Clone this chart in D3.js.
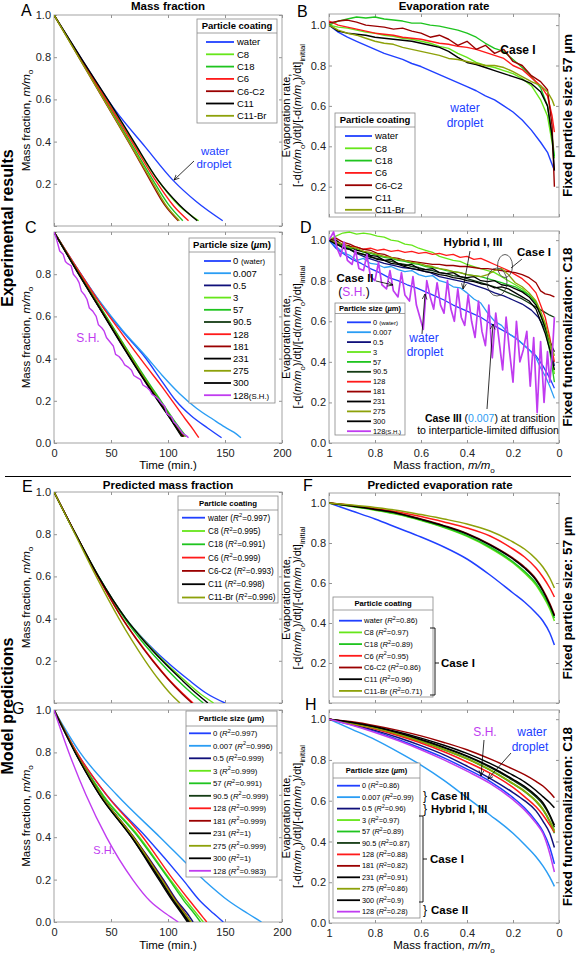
<!DOCTYPE html>
<html><head><meta charset="utf-8">
<script src="https://cdn.jsdelivr.net/npm/d3@7/dist/d3.min.js"></script>
<style>html,body{margin:0;padding:0;background:#fff;}svg{display:block;}</style>
</head><body>
<svg id="fig" width="576" height="957" xmlns="http://www.w3.org/2000/svg"></svg>
<script>
// ================= DATA =================
const timeTicks = [0, 50, 100, 150, 200];
const massFracTicks = [1, 0.8, 0.6, 0.4, 0.2, 0];
const fracTicks = [0, 0.2, 0.4, 0.6, 0.8, 1.0];

const coatingNames = ["water","C8","C18","C6","C6-C2","C11","C11-Br"];
const sizeNames = ["0 (water)","0.007","0.5","3","57","90.5","128","181","231","275","300","128(S.H.)"];
const sizeNamesShort = ["0","0.007","0.5","3","57","90.5","128","181","231","275","300","128"];
const coatR2Mass = [0.997,0.995,0.991,0.999,0.993,0.998,0.996];
const coatR2Rate = [0.86,0.97,0.89,0.95,0.86,0.96,0.71];
const sizeR2Mass = [0.997,0.996,0.999,0.999,0.991,0.999,0.999,0.999,1,0.999,1,0.983];
const sizeR2Rate = [0.86,0.99,0.96,0.97,0.89,0.87,0.88,0.82,0.91,0.86,0.9,0.28];

// Panel A: measured mass fraction vs time [min, m/mo], one series per coating
const massA = [
  [[0,1],[25,0.785],[53.5,0.55],[80,0.375],[104.7,0.215],[125,0.115],[148,0.025]],
  [[0,1],[25,0.78],[50,0.565],[70,0.392],[90,0.225],[110,0.095],[127,0.025]],
  [[0,1],[25,0.775],[50,0.55],[70,0.37],[86,0.225],[100,0.105],[113,0.025]],
  [[0,1],[25,0.78],[50,0.56],[70,0.385],[88,0.225],[105,0.095],[118,0.025]],
  [[0,1],[25,0.77],[50,0.54],[70,0.355],[84,0.22],[97,0.1],[109,0.025]],
  [[0,1],[25,0.785],[50,0.575],[70,0.4],[91.5,0.215],[110,0.1],[125.7,0.025]],
  [[0,1],[25,0.77],[50,0.542],[70,0.358],[85,0.22],[98,0.1],[110,0.025]]
];

// Panel B: measured evaporation rate on a mass-fraction grid
const rateB_x = [1,0.96,0.92,0.88,0.84,0.8,0.76,0.72,0.68,0.64,0.6,0.56,0.52,0.48,0.44,0.4,0.36,0.32,0.28,0.24,0.2,0.16,0.12,0.08,0.05,0.03,0.02];
const rateB = [
  [1.0,0.965,0.94,0.92,0.9,0.88,0.86,0.845,0.83,0.81,0.795,0.775,0.755,0.735,0.715,0.695,0.675,0.65,0.63,0.6,0.57,0.53,0.48,0.42,0.37,0.31,0.28],
  [1.0,0.99,0.985,0.975,0.965,0.96,0.95,0.945,0.935,0.93,0.92,0.91,0.895,0.885,0.86,0.84,0.815,0.8,0.79,0.775,0.76,0.735,0.7,0.63,0.55,0.42,0.34],
  [1.0,1.02,1.03,1.04,1.035,1.04,1.03,1.025,1.02,1.01,1.01,1.0,0.995,0.985,0.975,0.96,0.94,0.91,0.885,0.87,0.83,0.79,0.745,0.69,0.6,0.45,0.35],
  [1.02,1.0,0.99,0.98,0.97,0.96,0.955,0.95,0.94,0.935,0.93,0.92,0.91,0.905,0.895,0.89,0.88,0.865,0.85,0.835,0.8,0.78,0.74,0.7,0.65,0.55,0.47],
  [1.01,1.02,1.025,1.015,1.0,0.995,0.99,0.98,0.985,0.97,0.96,0.94,0.95,0.93,0.9,0.92,0.88,0.9,0.86,0.88,0.82,0.8,0.75,0.72,0.68,0.5,0.2],
  [1.0,0.97,0.96,0.955,0.95,0.94,0.935,0.93,0.925,0.92,0.91,0.9,0.89,0.87,0.84,0.815,0.805,0.79,0.775,0.76,0.745,0.73,0.71,0.67,0.6,0.45,0.28],
  [1.0,0.975,0.96,0.95,0.935,0.92,0.91,0.905,0.89,0.88,0.87,0.86,0.85,0.835,0.83,0.82,0.81,0.8,0.8,0.79,0.77,0.745,0.72,0.7,0.67,0.63,0.6]
];

// Panel C: measured mass fraction vs time, one series per particle size
const massC = [
  [[0,1],[20,0.83],[40,0.67],[60,0.53],[80,0.405],[95,0.29],[107,0.2],[120,0.13],[135,0.07],[147,0.025]],
  [[0,1],[20,0.83],[40,0.672],[60,0.535],[80,0.415],[95,0.32],[110,0.235],[125,0.165],[140,0.11],[150,0.075],[158,0.05],[164,0.025]],
  [[0,1],[20,0.82],[40,0.645],[60,0.47],[80,0.3],[95,0.18],[105,0.1],[114,0.03]],
  [[0,1],[20,0.822],[40,0.648],[60,0.475],[80,0.305],[95,0.185],[105,0.105],[115,0.03]],
  [[0,1],[20,0.823],[40,0.65],[60,0.478],[80,0.31],[95,0.19],[105,0.11],[116,0.03]],
  [[0,1],[20,0.818],[40,0.64],[60,0.465],[80,0.295],[95,0.175],[105,0.095],[113,0.03]],
  [[0,1],[20,0.83],[40,0.665],[60,0.515],[80,0.37],[95,0.265],[105,0.19],[115,0.115],[122,0.065],[127,0.025]],
  [[0,1],[20,0.82],[40,0.642],[60,0.468],[80,0.298],[95,0.178],[105,0.098],[114,0.03]],
  [[0,1],[20,0.815],[40,0.638],[60,0.46],[80,0.29],[95,0.17],[105,0.09],[112,0.03]],
  [[0,1],[20,0.82],[40,0.643],[60,0.47],[80,0.3],[95,0.178],[105,0.097],[113,0.03]],
  [[0,1],[20,0.817],[40,0.64],[60,0.463],[80,0.293],[95,0.173],[105,0.092],[113,0.03]],
  [[0,1],[2,0.97],[4,0.93],[5,0.91],[8,0.895],[10,0.86],[12,0.85],[15,0.84],[17,0.8],[20,0.78],[22,0.76],[24,0.72],[27,0.7],[29,0.68],[31,0.64],[34,0.625],[37,0.6],[39,0.56],[42,0.545],[44,0.53],[46,0.5],[49,0.48],[52,0.46],[54,0.42],[57,0.41],[60,0.39],[62,0.37],[65,0.36],[68,0.345],[70,0.32],[73,0.31],[76,0.3],[78,0.275],[81,0.265],[84,0.25],[86,0.23],[89,0.22],[92,0.205],[94,0.19],[97,0.175],[99,0.14],[101,0.13],[103,0.125],[105,0.1],[107,0.09],[109,0.075],[111,0.06],[113,0.045],[116,0.035],[118,0.025]]
];

// Panel D: measured evaporation rate vs mass fraction, one series per particle size
const rateD = [
  [[1,1],[0.97,0.96],[0.94,0.935],[0.9,0.905],[0.86,0.885],[0.82,0.86],[0.78,0.84],[0.74,0.815],[0.7,0.8],[0.66,0.78],[0.62,0.765],[0.58,0.745],[0.54,0.725],[0.5,0.705],[0.46,0.68],[0.42,0.66],[0.38,0.64],[0.34,0.62],[0.3,0.59],[0.26,0.565],[0.22,0.54],[0.18,0.51],[0.14,0.47],[0.1,0.43],[0.07,0.38],[0.04,0.32],[0.02,0.27]],
  [[1,1],[0.97,0.97],[0.94,0.94],[0.91,0.925],[0.88,0.9],[0.85,0.91],[0.82,0.885],[0.79,0.88],[0.76,0.865],[0.73,0.87],[0.7,0.855],[0.67,0.845],[0.64,0.85],[0.61,0.83],[0.58,0.82],[0.55,0.825],[0.52,0.8],[0.49,0.79],[0.46,0.77],[0.43,0.765],[0.4,0.74],[0.37,0.71],[0.34,0.69],[0.31,0.64],[0.28,0.6],[0.25,0.58],[0.22,0.54],[0.19,0.52],[0.16,0.49],[0.13,0.46],[0.1,0.42],[0.08,0.37],[0.06,0.33],[0.04,0.28],[0.02,0.22]],
  [[1,1],[0.96,0.975],[0.92,0.96],[0.88,0.935],[0.84,0.915],[0.8,0.9],[0.76,0.885],[0.72,0.875],[0.68,0.865],[0.64,0.86],[0.6,0.85],[0.56,0.84],[0.52,0.82],[0.48,0.81],[0.44,0.8],[0.4,0.79],[0.36,0.775],[0.32,0.76],[0.28,0.74],[0.24,0.725],[0.2,0.705],[0.16,0.685],[0.12,0.655],[0.09,0.62],[0.06,0.56],[0.04,0.48],[0.02,0.38]],
  [[1,1],[0.97,1.02],[0.94,1.035],[0.91,1.04],[0.88,1.03],[0.85,1.035],[0.82,1.03],[0.79,1.02],[0.76,1.015],[0.73,1.0],[0.7,0.995],[0.67,0.98],[0.64,0.975],[0.61,0.96],[0.58,0.95],[0.55,0.94],[0.52,0.92],[0.49,0.91],[0.46,0.9],[0.43,0.895],[0.4,0.88],[0.37,0.87],[0.34,0.86],[0.31,0.85],[0.28,0.84],[0.25,0.82],[0.22,0.8],[0.19,0.78],[0.16,0.76],[0.13,0.73],[0.1,0.69],[0.08,0.64],[0.06,0.58],[0.04,0.48],[0.02,0.34]],
  [[1,1],[0.97,0.985],[0.94,0.97],[0.91,0.96],[0.88,0.955],[0.85,0.94],[0.82,0.935],[0.79,0.925],[0.76,0.915],[0.73,0.91],[0.7,0.9],[0.67,0.895],[0.64,0.885],[0.61,0.88],[0.58,0.87],[0.55,0.865],[0.52,0.86],[0.49,0.85],[0.46,0.845],[0.43,0.84],[0.4,0.83],[0.37,0.825],[0.34,0.82],[0.31,0.81],[0.28,0.8],[0.25,0.79],[0.22,0.78],[0.19,0.77],[0.16,0.75],[0.13,0.73],[0.1,0.69],[0.08,0.63],[0.06,0.56],[0.04,0.45],[0.02,0.3]],
  [[1,1],[0.97,0.99],[0.94,0.96],[0.91,0.955],[0.88,0.935],[0.85,0.93],[0.82,0.915],[0.79,0.91],[0.76,0.9],[0.73,0.895],[0.7,0.885],[0.67,0.88],[0.64,0.87],[0.61,0.865],[0.58,0.855],[0.55,0.85],[0.52,0.84],[0.49,0.835],[0.46,0.825],[0.43,0.82],[0.4,0.81],[0.37,0.8],[0.34,0.79],[0.31,0.78],[0.28,0.77],[0.25,0.755],[0.22,0.74],[0.19,0.725],[0.16,0.71],[0.13,0.69],[0.1,0.67],[0.07,0.65],[0.04,0.63],[0.02,0.62]],
  [[1,1],[0.97,0.99],[0.94,0.98],[0.91,0.97],[0.88,0.965],[0.85,0.955],[0.82,0.96],[0.79,0.95],[0.76,0.955],[0.73,0.945],[0.7,0.95],[0.67,0.94],[0.64,0.945],[0.61,0.935],[0.58,0.94],[0.55,0.93],[0.52,0.935],[0.49,0.925],[0.46,0.93],[0.43,0.915],[0.4,0.92],[0.37,0.905],[0.34,0.91],[0.31,0.895],[0.28,0.88],[0.25,0.865],[0.22,0.85],[0.19,0.83],[0.16,0.81],[0.13,0.78],[0.1,0.74],[0.08,0.68],[0.06,0.62],[0.04,0.52],[0.02,0.4]],
  [[1,1],[0.97,1.01],[0.94,0.99],[0.91,0.98],[0.88,0.965],[0.85,0.955],[0.82,0.95],[0.79,0.935],[0.76,0.93],[0.73,0.915],[0.7,0.91],[0.67,0.9],[0.64,0.895],[0.61,0.89],[0.58,0.885],[0.55,0.88],[0.52,0.88],[0.49,0.875],[0.46,0.875],[0.43,0.87],[0.4,0.87],[0.37,0.865],[0.34,0.86],[0.31,0.86],[0.28,0.855],[0.25,0.85],[0.22,0.845],[0.19,0.84],[0.16,0.83],[0.13,0.815],[0.1,0.79],[0.08,0.75],[0.06,0.735],[0.04,0.73],[0.02,0.72]],
  [[1,1],[0.97,1.0],[0.94,0.975],[0.91,0.97],[0.88,0.95],[0.85,0.945],[0.82,0.925],[0.79,0.92],[0.76,0.9],[0.73,0.905],[0.7,0.885],[0.67,0.875],[0.64,0.88],[0.61,0.86],[0.58,0.855],[0.55,0.86],[0.52,0.84],[0.49,0.835],[0.46,0.84],[0.43,0.82],[0.4,0.815],[0.37,0.82],[0.34,0.8],[0.31,0.795],[0.28,0.8],[0.25,0.78],[0.22,0.775],[0.19,0.76],[0.16,0.745],[0.13,0.72],[0.1,0.68],[0.08,0.63],[0.06,0.57],[0.04,0.5],[0.02,0.45]],
  [[1,1],[0.97,0.99],[0.94,0.98],[0.91,0.965],[0.88,0.96],[0.85,0.945],[0.82,0.94],[0.79,0.93],[0.76,0.92],[0.73,0.915],[0.7,0.905],[0.67,0.9],[0.64,0.89],[0.61,0.885],[0.58,0.875],[0.55,0.87],[0.52,0.86],[0.49,0.855],[0.46,0.845],[0.43,0.84],[0.4,0.83],[0.37,0.825],[0.34,0.82],[0.31,0.83],[0.28,0.85],[0.25,0.86],[0.22,0.83],[0.19,0.79],[0.16,0.77],[0.13,0.74],[0.1,0.7],[0.08,0.65],[0.06,0.59],[0.04,0.5],[0.02,0.43]],
  [[1,1],[0.97,0.98],[0.94,0.965],[0.91,0.955],[0.88,0.94],[0.85,0.93],[0.82,0.92],[0.79,0.905],[0.76,0.9],[0.73,0.885],[0.7,0.88],[0.67,0.87],[0.64,0.86],[0.61,0.855],[0.58,0.845],[0.55,0.84],[0.52,0.83],[0.49,0.825],[0.46,0.815],[0.43,0.81],[0.4,0.8],[0.37,0.795],[0.34,0.785],[0.31,0.78],[0.28,0.765],[0.25,0.77],[0.22,0.76],[0.19,0.74],[0.16,0.72],[0.13,0.7],[0.1,0.66],[0.08,0.6],[0.06,0.54],[0.04,0.46],[0.02,0.36]],
  [[1,1],[0.98,1.04],[0.965,0.96],[0.95,0.92],[0.935,0.99],[0.92,0.9],[0.9,0.88],[0.885,0.95],[0.87,0.86],[0.85,0.85],[0.835,0.93],[0.82,0.82],[0.8,0.8],[0.785,0.89],[0.77,0.78],[0.75,0.76],[0.735,0.85],[0.72,0.75],[0.7,0.72],[0.685,0.84],[0.67,0.73],[0.65,0.7],[0.635,0.82],[0.62,0.68],[0.6,0.6],[0.59,0.56],[0.575,0.8],[0.56,0.72],[0.545,0.66],[0.53,0.79],[0.515,0.68],[0.5,0.64],[0.485,0.8],[0.47,0.66],[0.455,0.6],[0.44,0.76],[0.425,0.62],[0.41,0.58],[0.395,0.73],[0.38,0.6],[0.365,0.52],[0.35,0.7],[0.335,0.55],[0.32,0.48],[0.305,0.68],[0.29,0.42],[0.275,0.64],[0.26,0.5],[0.245,0.36],[0.23,0.62],[0.215,0.45],[0.2,0.3],[0.185,0.6],[0.17,0.4],[0.155,0.46],[0.14,0.55],[0.125,0.28],[0.11,0.52],[0.095,0.15],[0.08,0.5],[0.065,0.2],[0.05,0.45],[0.04,0.3],[0.03,0.42],[0.02,0.62]]
];

// Panel E: predicted mass fraction; time [min] at which each mass-fraction level is reached
const massE_levels = [1,0.8,0.6,0.4,0.3,0.2,0.11,0.045,0];
const massE_times = [
  [0,19,39,63,79,98,118,134,150],
  [0,19,39,63,78.5,96,114,128,140],
  [0,19,39,62,76,92,108,121,131],
  [0,19,38.5,60,73,87,101,113,122],
  [0,19,38.5,60,72.5,86.5,100.5,112,121],
  [0,19,39,63,78,95,112,125,135],
  [0,18.5,37,57,68,80,92,102,110.5]
];

// Panel F / H: predicted evaporation rate on a mass-fraction grid
const rateModel_x = [1,0.9,0.8,0.7,0.6,0.5,0.4,0.3,0.2,0.15,0.1,0.07,0.04,0.02];
const rateF = [
  [1,0.96,0.92,0.875,0.83,0.78,0.72,0.64,0.55,0.505,0.45,0.41,0.35,0.29],
  [1,0.983,0.964,0.942,0.912,0.877,0.833,0.775,0.7,0.65,0.59,0.535,0.47,0.41],
  [1,0.984,0.966,0.945,0.915,0.88,0.837,0.78,0.706,0.658,0.598,0.545,0.482,0.425],
  [1,0.988,0.973,0.955,0.932,0.905,0.875,0.835,0.77,0.73,0.675,0.63,0.575,0.53],
  [1,0.986,0.969,0.949,0.92,0.887,0.848,0.793,0.724,0.68,0.62,0.566,0.497,0.44],
  [1,0.985,0.968,0.948,0.918,0.885,0.845,0.79,0.72,0.675,0.615,0.56,0.49,0.435],
  [1,0.99,0.978,0.963,0.942,0.92,0.895,0.86,0.805,0.77,0.72,0.68,0.625,0.575]
];

// Panel G: predicted mass fraction; time [min] to reach each level
const massG_levels = [1,0.8,0.6,0.4,0.2,0.1,0.04,0];
const massG_times = [
  [0,20,46,81,113,128,140,148.5],
  [0,22.8,55,93,131,153,170,182],
  [0,19,41,70,96,108,117,122],
  [0,19.5,43,75,102,116,125,131],
  [0,19.5,42.5,74,101,114,123,128.5],
  [0,19,41,69,94,106,114,119],
  [0,20,46,78,104.6,119,128,134],
  [0,19,41,70,95,107,115,120],
  [0,18.5,40,68,92,104,112,117],
  [0,19,41,69.5,94.5,106.5,114.5,120.5],
  [0,18.5,40,68,93,105,113,118],
  [0,13,28,46,69,84,98,109]
];

const rateH = [
  [1,0.972,0.94,0.9,0.857,0.81,0.755,0.695,0.615,0.565,0.5,0.45,0.37,0.29],
  [1,0.95,0.9,0.84,0.775,0.7,0.615,0.53,0.44,0.385,0.325,0.28,0.225,0.18],
  [1,0.975,0.945,0.91,0.87,0.825,0.77,0.71,0.64,0.6,0.55,0.5,0.44,0.37],
  [1,0.98,0.956,0.926,0.892,0.852,0.807,0.752,0.685,0.648,0.6,0.56,0.5,0.455],
  [1,0.979,0.955,0.925,0.89,0.85,0.805,0.75,0.682,0.645,0.596,0.555,0.495,0.44],
  [1,0.981,0.958,0.93,0.897,0.859,0.816,0.764,0.7,0.664,0.618,0.582,0.525,0.47],
  [1,0.978,0.952,0.92,0.883,0.84,0.79,0.735,0.665,0.62,0.57,0.53,0.48,0.445],
  [1,0.987,0.968,0.945,0.918,0.886,0.85,0.805,0.755,0.728,0.695,0.672,0.64,0.615],
  [1,0.982,0.96,0.932,0.9,0.862,0.82,0.768,0.705,0.67,0.625,0.59,0.53,0.48],
  [1,0.979,0.955,0.926,0.891,0.851,0.806,0.751,0.684,0.647,0.598,0.558,0.5,0.45],
  [1,0.984,0.963,0.937,0.907,0.872,0.832,0.783,0.725,0.692,0.65,0.62,0.59,0.565],
  [1,0.97,0.935,0.895,0.85,0.8,0.745,0.685,0.605,0.555,0.49,0.44,0.34,0.25]
];

// ================= STYLE =================
const FONT = '"Liberation Sans", Arial, Helvetica, sans-serif';
const BOX = '#9a9a9a';
const PAL = {water:'#2040ff', light:'#2a9df4', navy:'#10107a', lime:'#66e61a', green:'#1fc41f',
  red:'#ff1a1a', dred:'#9a0000', black:'#000000', olive:'#8da10a', dgreen:'#143c14', purple:'#c03cf0'};
const coatColors = ['water','lime','green','red','dred','black','olive'].map(k => PAL[k]);
const sizeColors = ['water','light','navy','lime','green','dgreen','red','dred','black','olive','black','purple'].map(k => PAL[k]);

const svg = d3.select('#fig').attr('font-family', FONT);
svg.append('rect').attr('width',576).attr('height',957).attr('fill','#fff');
const defs = svg.append('defs');
defs.append('marker').attr('id','arr').attr('viewBox','0 0 10 10').attr('refX',9).attr('refY',5)
  .attr('markerUnits','userSpaceOnUse').attr('markerWidth',6).attr('markerHeight',6).attr('orient','auto')
  .append('path').attr('d','M0,1 L9,5 L0,9').attr('fill','none').attr('stroke','#000').attr('stroke-width',1.2);

function rich(t, parts, fs) {
  let shift = 0;
  parts.forEach(p => {
    const ts = t.append('tspan').text(p.t);
    const target = p.sub ? fs * 0.32 : p.sup ? -fs * 0.4 : 0;
    if (target - shift !== 0) ts.attr('dy', target - shift);
    shift = target;
    if (p.sub || p.sup) ts.attr('font-size', fs * 0.7);
    if (p.small) ts.attr('font-size', p.small);
    if (p.it) ts.attr('font-style', 'italic');
    if (p.bold) ts.attr('font-weight', 'bold');
    if (p.fill) ts.attr('fill', p.fill);
  });
}
const massParts = [{t:'Mass fraction, '},{t:'m/m',it:1},{t:'o',sub:1}];
const rateParts = [{t:'[-d('},{t:'m/m',it:1},{t:'o',sub:1},{t:')/dt]/[-d('},{t:'m/m',it:1},{t:'o',sub:1},{t:')/dt]'},{t:'initial',sub:1}];

let clipN = 0;
function panel(p) {
  const xs = d3.scaleLinear().domain(p.xd).range(p.x);
  const ys = d3.scaleLinear().domain(p.yd).range([p.y[1], p.y[0]]);
  const g = svg.append('g');
  const lo = Math.min(...p.yd) - 1e-9, hi = Math.max(...p.yd) + 1e-9;
  const yt = fracTicks.filter(v => v >= lo && v <= hi);
  const fy = d => (p.yHide || []).includes(d) ? '' : d3.format('.1f')(d);
  const none = () => '';
  g.append('g').attr('transform', `translate(0,${p.y[1]})`)
    .call(d3.axisBottom(xs).tickValues(p.xt).tickSize(-3).tickPadding(6).tickFormat(p.xLab ? p.xFmt : none));
  g.append('g').attr('transform', `translate(0,${p.y[0]})`)
    .call(d3.axisTop(xs).tickValues(p.xt).tickSize(-3).tickFormat(none));
  g.append('g').attr('transform', `translate(${p.x[0]},0)`)
    .call(d3.axisLeft(ys).tickValues(yt).tickSize(-3).tickPadding(3).tickFormat(fy));
  g.append('g').attr('transform', `translate(${p.x[1]},0)`)
    .call(d3.axisRight(ys).tickValues(yt).tickSize(-3).tickFormat(none));
  g.selectAll('.domain').remove();
  g.selectAll('.tick line').attr('stroke', '#777').attr('stroke-width', 0.8);
  g.selectAll('.tick text').attr('fill', '#222').attr('font-size', 11).attr('font-family', FONT);
  g.append('rect').attr('x', p.x[0]).attr('y', p.y[0]).attr('width', p.x[1] - p.x[0]).attr('height', p.y[1] - p.y[0])
    .attr('fill', 'none').attr('stroke', BOX).attr('stroke-width', 0.9);
  const id = 'clip' + (clipN++);
  defs.append('clipPath').attr('id', id).append('rect')
    .attr('x', p.x[0]).attr('y', p.y[0]).attr('width', p.x[1] - p.x[0]).attr('height', p.y[1] - p.y[0]);
  const lines = g.append('g').attr('clip-path', `url(#${id})`);
  return {xs, ys, g, lines, p};
}
function drawSeries(P, series, colors, curve, widths) {
  series.forEach((s, i) => {
    const c = Array.isArray(curve) ? curve[i] : curve;
    const line = d3.line().x(d => P.xs(d[0])).y(d => P.ys(d[1])).curve(c);
    P.lines.append('path').attr('d', line(s)).attr('fill', 'none').attr('stroke', colors[i])
      .attr('stroke-width', Array.isArray(widths) ? widths[i] : widths).attr('stroke-linejoin', 'round');
  });
}
function text(x, y, str, o = {}) {
  const t = svg.append('text').attr('x', x).attr('y', y).attr('font-size', o.fs || 11)
    .attr('text-anchor', o.anchor || 'middle').attr('fill', o.fill || '#000');
  if (o.bold) t.attr('font-weight', 'bold');
  if (o.rot) t.attr('transform', `rotate(${o.rot},${x},${y})`);
  if (o.parts) rich(t, o.parts, o.fs || 11); else t.text(str);
  return t;
}
function arrow(x1, y1, x2, y2) {
  svg.append('line').attr('x1', x1).attr('y1', y1).attr('x2', x2).attr('y2', y2)
    .attr('stroke', '#000').attr('stroke-width', 0.8).attr('marker-end', 'url(#arr)');
}
function legend(o) {
  const g = svg.append('g');
  g.append('rect').attr('x', o.x).attr('y', o.y).attr('width', o.w).attr('height', o.h)
    .attr('fill', '#fff').attr('stroke', '#888').attr('stroke-width', 0.8);
  g.append('line').attr('x1', o.x).attr('x2', o.x + o.w).attr('y1', o.y + o.hh).attr('y2', o.y + o.hh)
    .attr('stroke', '#888').attr('stroke-width', 0.8);
  const tt = g.append('text').attr('x', o.x + o.w / 2).attr('y', o.y + o.hh / 2 + o.fsT * 0.36)
    .attr('text-anchor', 'middle').attr('font-weight', 'bold').attr('font-size', o.fsT);
  rich(tt, o.title, o.fsT);
  o.rows.forEach((r, i) => {
    const y = o.y0 + i * o.dy;
    g.append('line').attr('x1', o.lx0).attr('x2', o.lx1).attr('y1', y).attr('y2', y)
      .attr('stroke', r.color).attr('stroke-width', 1.8);
    const t = g.append('text').attr('x', o.tx).attr('y', y + o.fs * 0.36).attr('font-size', o.fs);
    rich(t, r.parts, o.fs);
  });
}
const coatTitle = [{t:'Particle coating'}];
const sizeTitle = [{t:'Particle size ('},{t:'\u00b5',it:1},{t:'m)'}];
function nameParts(n, fs) {
  const m = n.match(/^(.*?)(\(.*\))$/);
  if (m) return [{t:m[1]},{t:m[2], small: fs * 0.82}];
  return [{t:n}];
}
function r2Parts(n, v) { return [{t:n + ' ('},{t:'R',it:1},{t:'2',sup:1},{t:'=' + v + ')'}]; }

const fmtTime = d3.format('d');
const fmtFrac = d => d === 1 ? '1' : d === 0 ? '0' : d3.format('.1f')(d);
const LX = [54, 282], RX = [329, 559];

// ================= PANELS =================
const A = panel({x:LX, y:[15,226], xd:[0,200], yd:[0,1], xt:timeTicks, xLab:false, yHide:[0]});
drawSeries(A, massA, coatColors, d3.curveMonotoneX, 1.4);
const B = panel({x:RX, y:[14,217], xd:[1,0], yd:[0.05,1.055], xt:massFracTicks, xLab:false});
drawSeries(B, rateB.map(v => rateB_x.map((x, i) => [x, v[i]])), coatColors, d3.curveLinear, 1.4);
const C = panel({x:LX, y:[232,443], xd:[0,200], yd:[0,1], xt:timeTicks, xLab:true, xFmt:fmtTime, yHide:[1]});
drawSeries(C, massC, sizeColors, massC.map((s, i) => i === 11 ? d3.curveLinear : d3.curveMonotoneX), 1.4);
const D = panel({x:RX, y:[231,443], xd:[1,0], yd:[0,1.045], xt:massFracTicks, xLab:true, xFmt:fmtFrac});
drawSeries(D, rateD, sizeColors, d3.curveLinear, sizeColors.map((c, i) => i === 11 ? 1.7 : 1.3));
const E = panel({x:LX, y:[492,703], xd:[0,200], yd:[0,1], xt:timeTicks, xLab:false, yHide:[0]});
drawSeries(E, massE_times.map(ts => ts.map((t, i) => [t, massE_levels[i]])), coatColors, d3.curveMonotoneX, 1.4);
const F = panel({x:RX, y:[493,703], xd:[1,0], yd:[0,1.05], xt:massFracTicks, xLab:false, yHide:[0]});
drawSeries(F, rateF.map(v => rateModel_x.map((x, i) => [x, v[i]])), coatColors, d3.curveMonotoneX, 1.5);
const G = panel({x:LX, y:[710,922], xd:[0,200], yd:[0,1], xt:timeTicks, xLab:true, xFmt:fmtTime});
drawSeries(G, massG_times.map(ts => ts.map((t, i) => [t, massG_levels[i]])), sizeColors, d3.curveMonotoneX, 1.4);
const Hh = panel({x:RX, y:[710,923], xd:[1,0], yd:[0,1.045], xt:massFracTicks, xLab:true, xFmt:fmtFrac});
drawSeries(Hh, rateH.map(v => rateModel_x.map((x, i) => [x, v[i]])), sizeColors, d3.curveMonotoneX, 1.5);

// ================= LEGENDS =================
legend({x:197, y:19, w:80, h:104, hh:14, title:coatTitle, fsT:9.5, fs:9.5, y0:42, dy:12.3, lx0:206, lx1:234, tx:237,
  rows: coatingNames.map((n, i) => ({color: coatColors[i], parts: [{t:n}]}))});
legend({x:335, y:113, w:80, h:100, hh:14, title:coatTitle, fsT:9.5, fs:9.5, y0:136, dy:12.3, lx0:345, lx1:372, tx:375,
  rows: coatingNames.map((n, i) => ({color: coatColors[i], parts: [{t:n}]}))});
legend({x:189, y:238, w:86, h:165, hh:14, title:sizeTitle, fsT:9.5, fs:9.5, y0:261, dy:12.2, lx0:204, lx1:231, tx:233,
  rows: sizeNames.map((n, i) => ({color: sizeColors[i], parts: nameParts(n, 9.5)}))});
legend({x:335, y:303, w:70, h:132, hh:10.5, title:sizeTitle, fsT:7.6, fs:7.4, y0:322.3, dy:9.9, lx0:347, lx1:371, tx:373,
  rows: sizeNames.map((n, i) => ({color: sizeColors[i], parts: nameParts(n, 7.4)}))});
legend({x:178, y:496, w:100, h:107, hh:14, title:coatTitle, fsT:7.8, fs:8.2, y0:517.7, dy:13.3, lx0:182, lx1:205, tx:208,
  rows: coatingNames.map((n, i) => ({color: coatColors[i], parts: r2Parts(n, coatR2Mass[i])}))});
legend({x:333, y:597, w:100, h:100, hh:13, title:coatTitle, fsT:7.7, fs:7.6, y0:620.7, dy:11.7, lx0:339, lx1:362, tx:364,
  rows: coatingNames.map((n, i) => ({color: coatColors[i], parts: r2Parts(n, coatR2Rate[i])}))});
legend({x:186, y:711, w:91, h:166, hh:15, title:sizeTitle, fsT:8, fs:7.8, y0:733.3, dy:12.5, lx0:189, lx1:211, tx:213,
  rows: sizeNamesShort.map((n, i) => ({color: sizeColors[i], parts: r2Parts(n, sizeR2Mass[i])}))});
legend({x:333, y:763, w:87, h:155, hh:15, title:sizeTitle, fsT:7.5, fs:7.3, y0:785.7, dy:11.45, lx0:337, lx1:360, tx:362,
  rows: sizeNamesShort.map((n, i) => ({color: sizeColors[i], parts: r2Parts(n, sizeR2Rate[i])}))});

// ================= TEXT / LABELS =================
[['A',21,16],['B',297,17],['C',25,233],['D',300,233],['E',22,492],['F',303,491],['G',12,714],['H',305,710]]
  .forEach(([l, x, y]) => text(x, y, l, {fs:16, anchor:'start'}));
text(168, 10, 'Mass fraction', {fs:11.5, bold:1});
text(444, 10, 'Evaporation rate', {fs:11.5, bold:1});
text(168, 489, 'Predicted mass fraction', {fs:11.5, bold:1});
text(440, 489, 'Predicted evaporation rate', {fs:11.5, bold:1});
[120.5, 337.5, 597.5, 816].forEach(cy => text(29.5, cy, '', {fs:11.5, rot:-90, parts:massParts}));
[115.5, 337, 598, 816.5].forEach(cy => {
  text(290, cy, 'Evaporation rate,', {fs:11, rot:-90});
  text(301, cy, '', {fs:11, rot:-90, parts:rateParts});
});
text(168, 469, 'Time (min.)', {fs:11.5});
text(168, 949, 'Time (min.)', {fs:11.5});
text(444, 469, '', {fs:11.5, parts:massParts});
text(444, 949, '', {fs:11.5, parts:massParts});
text(13, 228, 'Experimental results', {fs:16, bold:1, rot:-90});
text(13, 706, 'Model predictions', {fs:16, bold:1, rot:-90});
text(572, 115.5, 'Fixed particle size: 57 \u00b5m', {fs:13.5, bold:1, rot:-90});
text(572, 337, 'Fixed functionalization: C18', {fs:13.5, bold:1, rot:-90});
text(572, 598, 'Fixed particle size: 57 \u00b5m', {fs:13.5, bold:1, rot:-90});
text(572, 816.5, 'Fixed functionalization: C18', {fs:13.5, bold:1, rot:-90});
svg.append('line').attr('x1', 5).attr('x2', 571).attr('y1', 476.5).attr('y2', 476.5).attr('stroke', '#000').attr('stroke-width', 1);

// annotations A
text(215, 155, 'water', {fs:11.5, fill:PAL.water});
text(214, 168, 'droplet', {fs:11.5, fill:PAL.water});
arrow(194, 161, 174, 180);
// B
text(518, 54, 'Case I', {fs:12, bold:1});
text(465, 112, 'water', {fs:12, fill:PAL.water});
text(465, 127, 'droplet', {fs:12, fill:PAL.water});
// C
text(88, 342, 'S.H.', {fs:12, fill:PAL.purple});
// D
text(473, 246, 'Hybrid I, III', {fs:11.5, bold:1});
arrow(470, 251, 463, 289);
text(534, 256, 'Case I', {fs:11.5, bold:1});
svg.append('ellipse').attr('cx', 497).attr('cy', 282).attr('rx', 10).attr('ry', 14).attr('fill', 'none').attr('stroke', '#333').attr('stroke-width', 0.8);
svg.append('ellipse').attr('cx', 505).attr('cy', 266).attr('rx', 7.5).attr('ry', 11.5).attr('fill', 'none').attr('stroke', '#333').attr('stroke-width', 0.8);
svg.append('line').attr('x1', 522).attr('y1', 259).attr('x2', 511).attr('y2', 268).attr('stroke', '#000').attr('stroke-width', 0.8);
text(355, 282, 'Case II', {fs:11.5, bold:1});
text(354, 296, '', {fs:12, parts:[{t:'('},{t:'S.H.', fill:PAL.purple},{t:')'}]});
arrow(376, 281, 393, 285);
text(424, 342, 'water', {fs:12, fill:PAL.water});
text(425, 356, 'droplet', {fs:12, fill:PAL.water});
arrow(422, 334, 425, 294);
text(490, 422, '', {fs:10.5, parts:[{t:'Case III', bold:1},{t:' ('},{t:'0.007', fill:PAL.light},{t:') at transition'}]});
text(488, 434, 'to interparticle-limited diffusion', {fs:10.5});
arrow(487, 409, 493, 324);
// F
svg.append('path').attr('d', 'M430,628 H435 V695 H430 M435,663 H439').attr('fill', 'none').attr('stroke', '#000').attr('stroke-width', 0.9);
text(441, 667, 'Case I', {fs:11.5, bold:1, anchor:'start'});
// G
text(104, 854, 'S.H.', {fs:11, fill:PAL.purple});
// H
text(485, 736, 'S.H.', {fs:12, fill:PAL.purple});
arrow(484, 740, 481, 776);
text(532, 736, 'water', {fs:12, fill:PAL.water});
text(530, 751, 'droplet', {fs:12, fill:PAL.water});
arrow(511, 753, 488, 779);
text(423, 800, '}', {fs:12, anchor:'start'});
text(431, 800, 'Case III', {fs:11, bold:1, anchor:'start'});
text(423, 813, '}', {fs:12, anchor:'start'});
text(431, 813, 'Hybrid I, III', {fs:11, bold:1, anchor:'start'});
svg.append('path').attr('d', 'M419,816 H423 V902 H419 M423,859 H427').attr('fill', 'none').attr('stroke', '#000').attr('stroke-width', 0.9);
text(430, 863, 'Case I', {fs:11.5, bold:1, anchor:'start'});
text(423, 914, '}', {fs:12, anchor:'start'});
text(431, 914, 'Case II', {fs:11.5, bold:1, anchor:'start'});
</script>
</body></html>
